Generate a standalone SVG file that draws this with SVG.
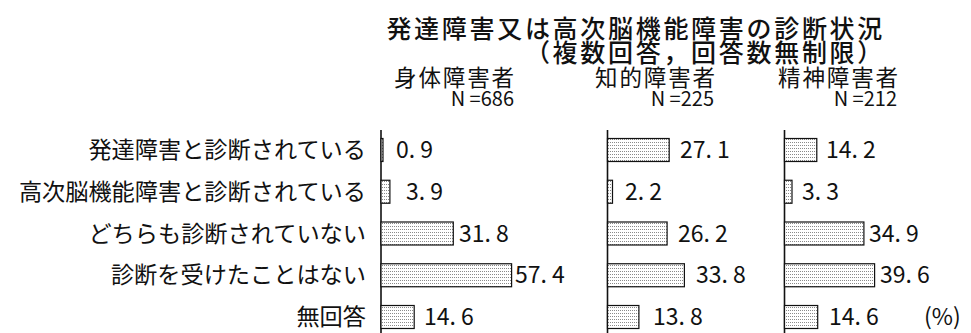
<svg xmlns="http://www.w3.org/2000/svg" width="971" height="333" viewBox="0 0 971 333">
<defs>
<pattern id="dots" patternUnits="userSpaceOnUse" width="2" height="3">
<rect width="2" height="3" fill="#fff"/>
<rect x="0" y="1" width="1" height="1" fill="#8a8a8a"/>
</pattern>
<style>
text{font-family:"Noto Sans CJK JP","Noto Sans CJK SC",sans-serif;fill:#111}
.title{font-size:25px;letter-spacing:2.7px;font-weight:500;text-anchor:end}
.hdr{font-size:22.5px;letter-spacing:1.9px;text-anchor:end}
.n{font-size:20px;text-anchor:end}
.cat{font-size:23.2px;text-anchor:end}
.val{font-size:23px}
.bar{fill:url(#dots);stroke:#111;stroke-width:1.2}
.axis{stroke:#111;stroke-width:1.6}
</style>
</defs>
<rect width="971" height="333" fill="#fff"/>
<g id="title">
<text class="title" x="885" y="38">発達障害又は高次脳機能障害の診断状況</text>
<text class="title" x="885" y="62">（複数回答，回答数無制限）</text>
</g>
<g id="headers">
<text class="hdr" x="516" y="86">身体障害者</text>
<text class="n" x="514" y="106">N =686</text>
<text class="hdr" x="717" y="86">知的障害者</text>
<text class="n" x="714" y="106">N =225</text>
<text class="hdr" x="900" y="86">精神障害者</text>
<text class="n" x="897" y="106">N =212</text>
</g>
<g id="categories">
<text class="cat" x="366" y="158">発達障害と診断されている</text>
<text class="cat" x="366" y="200">高次脳機能障害と診断されている</text>
<text class="cat" x="366" y="241.5">どちらも診断されていない</text>
<text class="cat" x="366" y="283">診断を受けたことはない</text>
<text class="cat" x="366" y="325">無回答</text>
</g>
<g id="panel-physical">
<line class="axis" x1="381" y1="130" x2="381" y2="333"/>
<rect class="bar" x="381" y="138.5" width="2" height="23"/>
<rect class="bar" x="381" y="180.25" width="8.9" height="23"/>
<rect class="bar" x="381" y="222" width="72.3" height="23"/>
<rect class="bar" x="381" y="263.75" width="130.6" height="23"/>
<rect class="bar" x="381" y="305.5" width="33.2" height="23"/>
<text class="val" x="396" y="158">0. 9</text>
<text class="val" x="406" y="199.75">3. 9</text>
<text class="val" x="459" y="241.5">31. 8</text>
<text class="val" x="515" y="283.25">57. 4</text>
<text class="val" x="424" y="325">14. 6</text>
</g>
<g id="panel-intellectual">
<line class="axis" x1="607.5" y1="130" x2="607.5" y2="333"/>
<rect class="bar" x="607.5" y="138.5" width="61.7" height="23"/>
<rect class="bar" x="607.5" y="180.25" width="5" height="23"/>
<rect class="bar" x="607.5" y="222" width="59.6" height="23"/>
<rect class="bar" x="607.5" y="263.75" width="76.9" height="23"/>
<rect class="bar" x="607.5" y="305.5" width="31.4" height="23"/>
<text class="val" x="680" y="158">27. 1</text>
<text class="val" x="625" y="199.75">2. 2</text>
<text class="val" x="678" y="241.5">26. 2</text>
<text class="val" x="696" y="283.25">33. 8</text>
<text class="val" x="653" y="325">13. 8</text>
</g>
<g id="panel-mental">
<line class="axis" x1="784.5" y1="130" x2="784.5" y2="333"/>
<rect class="bar" x="784.5" y="138.5" width="32.3" height="23"/>
<rect class="bar" x="784.5" y="180.25" width="7.5" height="23"/>
<rect class="bar" x="784.5" y="222" width="79.4" height="23"/>
<rect class="bar" x="784.5" y="263.75" width="90.1" height="23"/>
<rect class="bar" x="784.5" y="305.5" width="33.2" height="23"/>
<text class="val" x="826" y="158">14. 2</text>
<text class="val" x="802" y="199.75">3. 3</text>
<text class="val" x="869" y="241.5">34. 9</text>
<text class="val" x="880" y="283.25">39. 6</text>
<text class="val" x="829" y="325">14. 6</text>
</g>
<g id="unit">
<text class="val" x="924" y="325">(%)</text>
</g>
</svg>
